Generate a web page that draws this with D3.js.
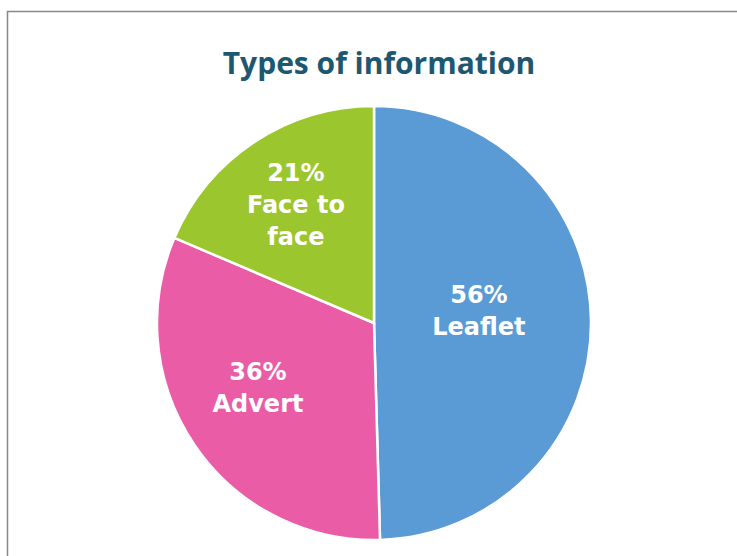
<!DOCTYPE html>
<html><head><meta charset="utf-8">
<script src="https://cdn.jsdelivr.net/npm/d3@7"></script>
<style>html,body{margin:0;padding:0;background:#fff;overflow:hidden}</style>
</head><body>
<svg id="c" width="737" height="556"></svg>
<script>
const categories = ["Leaflet", "Advert", "Face to face"];
const values = [56, 36, 21];
const labelLines = [["56%", "Leaflet"], ["36%", "Advert"], ["21%", "Face to", "face"]];
const title = "Types of information";

const colors = ["#5B9BD5", "#EB5CA7", "#9BC62D"];
// label placement: fraction of radius and angle shift (degrees) from slice middle
const labelPlacement = [{r: 0.487, da: -6}, {r: 0.613, da: 5}, {r: 0.653, da: 0}];

const svg = d3.select("#c");
svg.append("rect").attr("x", 7.5).attr("y", 11.5).attr("width", 800).attr("height", 600)
  .attr("fill", "#fff").attr("stroke", "#888").attr("stroke-width", 1.5);

svg.append("text").attr("x", 379).attr("y", 74).attr("text-anchor", "middle")
  .attr("font-family", "'Open Sans', sans-serif").attr("font-weight", "bold").attr("font-size", 30)
  .attr("fill", "#1D5870").text(title);

const cx = 374, cy = 323, R = 217;
const g = svg.append("g").attr("transform", `translate(${cx},${cy})`);
const pie = d3.pie().sort(null).value(d => d)(values);
const arc = d3.arc().innerRadius(0).outerRadius(R);
g.selectAll("path").data(pie).join("path")
  .attr("d", arc).attr("fill", (d, i) => colors[i])
  .attr("stroke", "#fff").attr("stroke-width", 2.5);

const lh = 32;
pie.forEach((d, i) => {
  const p = labelPlacement[i];
  const r = R * p.r;
  const a = (d.startAngle + d.endAngle) / 2 + p.da * Math.PI / 180;
  const x = Math.sin(a) * r, y = -Math.cos(a) * r;
  const lines = labelLines[i];
  const t = g.append("text").attr("text-anchor", "middle")
    .attr("font-family", "'DejaVu Sans', sans-serif").attr("font-weight", "bold").attr("font-size", 24)
    .attr("fill", "#fff");
  const y0 = y - (lines.length - 1) * lh / 2 + 8;
  lines.forEach((ln, j) => t.append("tspan").attr("x", x).attr("y", y0 + j * lh).text(ln));
});
</script>
</body></html>
